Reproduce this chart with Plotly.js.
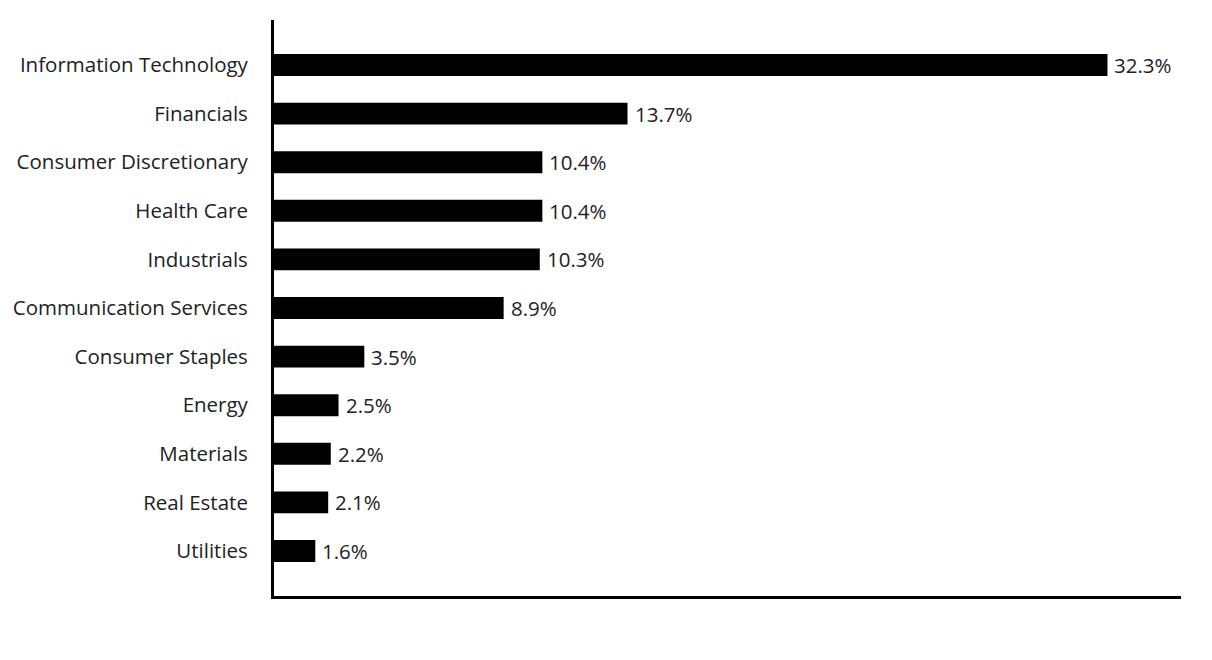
<!DOCTYPE html>
<html>
<head>
<meta charset="utf-8">
<script src="https://cdn.plot.ly/plotly-3.0.1.min.js"></script>
<style>html,body{margin:0;padding:0;background:#fff;}#chart{width:1212px;height:660px;}</style>
</head>
<body>
<div id="chart"></div>
<script>
var sectors = ["Information Technology","Financials","Consumer Discretionary","Health Care","Industrials","Communication Services","Consumer Staples","Energy","Materials","Real Estate","Utilities"];
var weights = [32.3, 13.7, 10.4, 10.4, 10.3, 8.9, 3.5, 2.5, 2.2, 2.1, 1.6];
var labels = weights.map(function(v){return v.toFixed(1) + "%";});

var FONT = "'Open Sans', sans-serif";
var FS = 20.5;

var trace = {
  type: "bar",
  orientation: "h",
  x: weights,
  y: sectors,
  marker: {color: "#000", line: {width: 0}},
  width: 0.45,
  hoverinfo: "none"
};

var annotations = sectors.map(function(s, i){
  return {x: weights[i], y: s, xref: "x", yref: "y", text: labels[i], showarrow: false,
          xanchor: "left", yanchor: "middle", xshift: 5,
          font: {family: FONT, size: FS, color: "#222"}};
});

var layout = {
  width: 1212, height: 660,
  margin: {l: 274, r: 31, t: 20, b: 64, pad: 0},
  paper_bgcolor: "#fff", plot_bgcolor: "#fff",
  showlegend: false,
  font: {family: FONT, size: FS, color: "#222"},
  annotations: annotations,
  xaxis: {range: [0, 35.15], showgrid: false, zeroline: false, showticklabels: false, ticks: "",
          showline: true, linecolor: "#000", linewidth: 3},
  yaxis: {type: "category", range: [10.926, -0.926], showgrid: false, zeroline: false, ticks: "",
          ticklabelstandoff: 19, showline: true, linecolor: "#000", linewidth: 3,
          tickfont: {family: FONT, size: FS, color: "#222"}}
};

Plotly.newPlot("chart", [trace], layout, {displayModeBar: false, staticPlot: true});
</script>
</body>
</html>
